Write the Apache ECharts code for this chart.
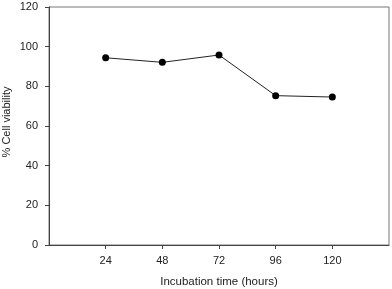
<!DOCTYPE html>
<html><head><meta charset="utf-8">
<script src="https://cdn.jsdelivr.net/npm/echarts@6/dist/echarts.min.js"></script>
<style>html,body{margin:0;padding:0;background:#fff}#c{width:392px;height:289px}</style>
</head><body><div id="c"></div>
<script>
const hours = [24, 48, 72, 96, 120];
const viability = [94.4, 92.1, 95.8, 75.3, 74.6];
const xTicks = [24, 48, 72, 96, 120];
const yTicks = [0, 20, 40, 60, 80, 100, 120];
const xTitle = 'Incubation time (hours)';
const yTitle = '% Cell viability';

const chart = echarts.init(document.getElementById('c'), null, {renderer: 'canvas'});
const font = 'Liberation Sans, Arial, sans-serif';
chart.setOption({
  animation: false,
  grid: {left: 49, right: 3, top: 7, bottom: 44, outerBoundsMode: 'none', containLabel: false,
    show: true, borderColor: '#777', borderWidth: 1, backgroundColor: 'transparent'},
  graphic: [{
    type: 'text', x: 7, y: 122, rotation: Math.PI / 2,
    style: {text: yTitle, fontFamily: font, fontSize: 11, fill: '#222', align: 'center', verticalAlign: 'middle'}
  }],
  xAxis: {
    type: 'value', min: 0, max: 144, interval: 24,
    name: xTitle, nameLocation: 'middle', nameGap: 31,
    nameTextStyle: {fontFamily: font, fontSize: 11.5, color: '#222'},
    axisLine: {show: true, lineStyle: {color: '#444', width: 1}},
    axisTick: {show: true, inside: false, length: 4, customValues: xTicks, lineStyle: {color: '#444'}},
    axisLabel: {fontFamily: font, fontSize: 11, color: '#222', margin: 10, customValues: xTicks},
    splitLine: {show: false}
  },
  yAxis: {
    type: 'value', min: 0, max: 120, interval: 20,
    axisLine: {show: true, lineStyle: {color: '#444', width: 1}},
    axisTick: {show: true, inside: false, length: 4, customValues: yTicks, lineStyle: {color: '#444'}},
    axisLabel: {fontFamily: font, fontSize: 11, color: '#222', margin: 11, customValues: yTicks},
    splitLine: {show: false}
  },
  series: [{
    type: 'line',
    data: hours.map((h, i) => [h, viability[i]]),
    symbol: 'circle', symbolSize: 7,
    itemStyle: {color: '#000'},
    lineStyle: {color: '#222', width: 1}
  }]
});
</script></body></html>
